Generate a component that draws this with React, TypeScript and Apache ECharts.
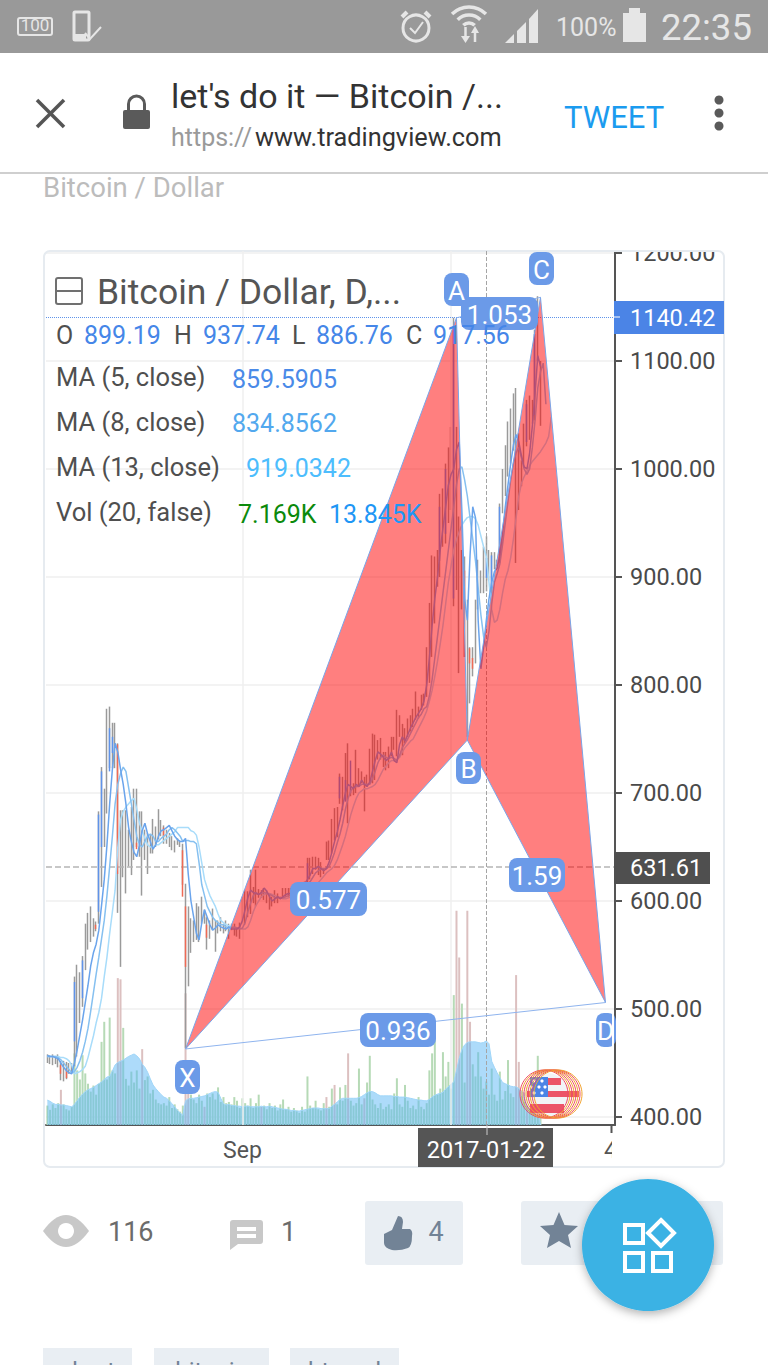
import React, { useEffect, useRef } from "react";
import * as echarts from "echarts";

const slotCount = 210;
const highs = [
  458,457,458,456,458,452,452,451,450,450,
  530,541,534,549,579,589,595,584,581,683,
  724,704,778,780,765,765,746,684,684,684,
  666,687,704,704,683,683,666,663,662,676,
  669,685,675,670,666,663,660,656,658,656,
  653,616,595,584,582,598,595,604,592,585,
  582,593,582,582,585,579,582,579,579,579,
  576,580,604,610,609,629,613,629,611,610,
  612,610,607,604,610,607,604,612,612,612,
  612,610,612,612,614,618,640,640,641,641,
  640,636,630,655,656,676,686,687,718,715,
  737,746,706,709,740,723,720,715,717,741,
  755,754,749,751,738,738,743,752,752,777,
  772,764,760,769,772,778,794,780,791,792,
  835,876,920,919,925,977,982,1005,1020,1039,
  1140,1039,956,925,919,879,835,835,879,916,
  906,928,937.74,925,923,923,916,968,1000,1022,
  1044,1056,1070,1075,1033,1008,1042,1064,1068,1064,
  1129,1160,1100,
];
const lows = [
  450,449,448,449,446,434,433,435,440,441,
  447,456,487,502,536,555,562,567,572,579,
  613,650,681,723,723,723,589,539,622,607,
  632,624,638,650,641,605,638,625,644,644,
  650,657,660,653,653,650,647,645,652,650,
  615,464,521,552,562,564,562,579,579,555,
  565,573,553,570,572,570,572,565,573,568,
  567,565,579,578,585,588,598,595,603,603,
  601,598,592,595,598,598,603,604,604,604,
  604,602,604,604,604,606,612,620,625,629,
  624,622,625,638,638,644,656,659,690,684,
  693,672,697,698,700,706,709,683,706,709,
  709,712,731,731,724,721,723,734,740,734,
  752,735,746,752,757,761,768,769,777,781,
  789,802,826,857,891,900,928,931,950,962,
  873,888,811,870,826,752,783,808,820,870,
  885,885,886.76,897,885,907,910,913,959,975,
  993,1005,1017,913,962,984,1005,1021,1027,1042,
  1045,1100,1040,
];
const bodyIndex = [5,7,10,13,18,19,20,23,24,26,33,43,50,51,59,96,108,110,112,145,147,150,154,156,157,162,164,167,177,180];
const bodyOpen = [448,444,470,510,578,590,650,720,737,745,654,668,647,595,578,620,695,692,700,915,940,880,906,834,825,899.19,890,920,1025,1050];
const bodyClose = [440,436,525,545,574,680,720,760,752,625,648,660,604,539,566,635,715,712,730,965,1000,1130,826,820,815,917.56,920,965,1060,1125];

const ma5 = [
  457,456,456,455,454,450,446,443,441,440,
  450,462,476,490,506,522,540,552,560,573,
  596,620,652,690,722,746,738,722,708,690,
  668,655,645,641,652,665,672,662,655,648,
  652,660,665,666,668,670,665,660,657,655,
  655,658,625,600,585,570,564,580,592,585,
  578,573,575,578,576,575,574,576,574,574,
  574,576,582,592,603,610,608,607,606,608,
  612,609,604,600,602,604,602,604,606,607,
  607,608,609,610,612,616,620,624,630,630,
  632,630,628,630,636,645,655,664,675,688,
  700,708,706,704,708,706,712,708,706,710,
  720,730,738,736,733,730,732,738,730,728,
  745,752,748,754,760,765,770,774,778,785,
  800,825,855,880,900,925,945,965,985,995,
  1000,1018,1025,960,880,860,920,965,955,860,
  815,835,859.59,880,895,905,908,920,940,965,
  985,1005,1022,1032,1025,1012,1002,1000,1015,1040,
  1070,1105,1095,
];
const ma8 = [
  456,456,456,456,455,453,450,447,444,441,
  442,446,452,460,470,482,498,515,532,548,
  565,582,605,632,660,690,708,718,724,720,
  705,690,675,660,652,650,655,660,662,660,
  655,655,658,660,662,666,668,666,663,660,
  655,656,656,655,655,653,635,615,605,595,
  590,585,582,580,578,578,576,575,575,576,
  575,574,575,580,590,598,605,608,606,607,
  608,607,606,605,603,603,603,603,604,605,
  606,607,608,609,610,612,615,618,622,626,
  628,630,630,630,632,638,645,654,662,672,
  685,695,702,705,706,706,708,708,708,708,
  713,720,728,733,735,733,732,733,732,730,
  735,742,746,750,755,760,765,770,773,778,
  780,790,805,825,845,865,885,905,925,945,
  965,985,1000,1002,990,975,955,935,915,890,
  865,845,834.86,850,875,895,903,912,930,950,
  970,990,1005,1015,1020,1010,1000,995,1000,1020,
  1045,1075,1090,1098,1060,
];
const ma13 = [
  456,456,456,456,456,455,455,454,452,448,
  440,441,442,444,447,455,465,475,487,497,
  510,530,548,570,590,610,650,675,683,687,
  690,693,695,685,672,665,658,652,650,650,
  652,652,654,656,658,660,662,664,668,668,
  668,668,668,665,664,661,650,635,620,612,
  605,600,595,588,582,580,578,577,576,575,
  575,575,574,574,576,582,590,596,600,604,
  606,607,607,606,605,604,603,602,602,603,
  604,604,605,606,606,607,608,610,612,614,
  617,620,623,626,628,630,633,638,645,652,
  660,670,680,688,695,700,702,704,704,705,
  706,708,712,717,722,725,728,730,730,731,
  733,738,742,745,748,750,755,760,765,770,
  776,785,795,808,822,838,855,875,895,910,
  925,935,942,948,952,955,956,956,954,948,
  938,928,919.03,895,870,858,860,870,885,898,
  906,918,935,955,975,987,993,998,1003,1007,
  1010,1013,1016,1020,1024,1030,1048,
];
const volumes = [
  3.2,2.5,3.4,2.8,3.6,5.8,3.4,2.6,2.4,3.0,
  11.8,9.0,7.5,11.5,8.5,6.8,5.5,6.5,5.0,6.8,
  13.7,17.0,7.5,17.7,9.0,8.5,24.2,24.0,16.0,7.6,
  6.5,8.8,7.0,9.0,6.0,12.5,7.4,8.0,5.2,5.8,
  4.2,3.6,3.4,3.6,3.2,4.6,2.8,3.4,2.6,2.2,
  3.2,21.7,8.5,5.0,4.2,3.6,5.0,4.0,3.0,5.2,
  4.6,5.2,4.2,6.2,3.8,4.6,3.6,3.8,3.4,4.6,
  4.0,2.8,4.4,3.6,3.2,4.4,2.8,3.6,5.0,3.0,
  3.2,2.6,3.6,2.8,3.2,2.4,3.4,4.2,2.6,3.0,
  2.2,2.8,2.4,2.0,3.0,2.2,8.0,3.2,2.8,4.0,
  2.6,2.4,3.6,4.6,3.0,6.0,6.6,3.4,6.2,4.0,
  6.6,11.8,4.0,3.2,3.6,9.3,3.4,4.4,7.0,11.4,
  4.2,3.4,2.8,3.6,2.6,3.0,3.4,2.6,5.2,7.7,
  3.4,3.0,6.6,4.0,2.8,3.2,2.6,4.6,3.0,2.6,
  3.6,9.0,11.8,16.5,5.0,6.0,12.0,8.0,10.4,6.0,
  21.4,35.3,27.6,20.0,7.0,35.3,17.0,10.0,8.0,12.0,
  8.0,6.0,7.169,5.0,9.3,5.0,4.0,8.8,4.2,5.6,
  10.7,5.2,4.6,24.7,10.4,4.8,3.8,3.2,4.0,2.8,
  3.6,11.4,4.0,
];
const downVolumes = [5,26,27,35,51,52,58,79,103,106,111,117,151,152,155,156,173,174,177];
const volumeAverage = [
  4.1,3.9,3.6,3.4,3.4,3.3,3.3,3.2,3.1,3.0,
  3.4,4.0,4.6,5.1,5.5,5.8,6.0,6.2,6.5,6.8,
  7.1,7.5,7.9,8.0,8.9,9.9,10.3,10.5,10.7,11.0,
  11.3,11.5,11.7,11.4,10.9,10.0,9.5,8.7,7.6,6.6,
  6.0,5.5,5.0,4.6,4.4,4.0,3.5,3.0,2.4,2.0,
  1.6,4.0,4.3,4.4,4.4,4.5,4.6,4.7,4.8,5.0,
  5.2,5.4,5.5,5.4,4.4,3.5,3.3,3.4,3.2,3.2,
  3.1,3.1,3.0,3.1,3.1,3.0,3.0,3.0,3.0,3.1,
  3.0,3.0,3.1,3.0,2.9,2.8,2.7,2.6,2.6,2.5,
  2.4,2.4,2.3,2.3,2.4,2.5,2.6,2.7,2.8,2.8,
  2.8,2.7,2.7,2.7,2.7,3.1,3.4,3.8,4.2,4.4,
  4.4,4.4,4.4,4.4,4.4,4.5,4.7,5.0,5.3,5.5,
  5.5,5.3,5.0,4.8,4.8,4.8,4.8,4.8,4.7,4.7,
  4.6,4.6,4.6,4.5,4.4,4.3,4.2,4.1,4.1,4.0,
  4.0,4.2,4.6,4.9,5.1,5.2,5.4,5.9,6.3,6.7,
  7.1,9.0,11.0,12.4,13.2,13.6,13.7,13.7,13.7,13.6,
  13.5,13.6,13.845,13.4,10.5,9.5,8.6,7.8,7.0,6.8,
  6.6,6.4,6.3,6.3,6.0,5.6,5.2,4.8,4.4,4.0,
  3.6,3.2,0,
];
const patternSlot = [51.4, 150.8, 155.4, 182.1, 206.4];
const patternPrice = [463, 1140, 749, 1159, 506];
const xTickSlots = [72];
const xTickLabels = ["Sep"];
const gridSlot = 149;
const crossSlot = 162;
const crossPrice = 631.61;
const lastPrice = 1140.42;

const FONT = "Roboto";
const LABEL_BLUE = "#6b9ae8";

echarts.graphic.registerShape("eyeIcon", echarts.graphic.extendPath("M43 1231 Q66 1199 89 1231 Q66 1263 43 1231 Z", {}));
echarts.graphic.registerShape("thumbIcon", echarts.graphic.extendPath("M384 1234 L392 1230 L398 1216 Q403 1216 403 1222 L402 1229 L410 1229 Q413 1231 412 1236 Q412 1246 408 1248 Q400 1251 392 1250 Q384 1248 384 1243 Z", {}));
echarts.graphic.registerShape("commentIcon", echarts.graphic.extendPath("M233 1220 L260 1220 Q263 1220 263 1223 L263 1241 Q263 1244 260 1244 L238 1244 L230 1250 L230 1223 Q230 1220 233 1220 Z", {}));

function txt(text: string, x: number, y: number, size: number, fill: string, align = "left", z = 60) {
  return { type: "text", x, y, z, silent: true, style: { text, fill, font: `normal ${size}px ${FONT}`, textAlign: align, textVerticalAlign: "middle" } };
}
function box(x: number, y: number, w: number, h: number, fill: string, z = 40, r: any = 0) {
  return { type: "rect", z, silent: true, shape: { x, y, width: w, height: h, r }, style: { fill } };
}
function seg(x1: number, y1: number, x2: number, y2: number, stroke: string, lineWidth: number, z = 60) {
  return { type: "line", z, silent: true, shape: { x1, y1, x2, y2 }, style: { stroke, lineWidth } };
}
function poly(points: number[][], fill: string, z = 60) {
  return { type: "polygon", z, silent: true, shape: { points }, style: { fill } };
}
function badge(text: string, x: number, y: number, w: number, h: number, size = 26) {
  return [box(x, y, w, h, LABEL_BLUE, 42, 8), txt(text, x + w / 2, y + h / 2 + 1, size, "#ffffff", "center", 43)];
}

function chromeElements() {
  const icon = "#e6e6e6";
  const els: any[] = [];
  // status bar
  els.push(box(0, 0, 768, 53, "#999999", 40));
  els.push({ type: "rect", z: 60, silent: true, shape: { x: 18, y: 18, width: 34, height: 17, r: 2 }, style: { fill: "none", stroke: icon, lineWidth: 2 } });
  els.push(txt("100", 35, 25, 17, icon, "center"));
  els.push({ type: "rect", z: 60, silent: true, shape: { x: 74, y: 12, width: 15, height: 28, r: 1 }, style: { fill: "none", stroke: icon, lineWidth: 3 } });
  els.push(box(74, 34, 12, 6, icon, 60));
  els.push({ type: "polyline", z: 61, silent: true, shape: { points: [[85, 33], [90, 39], [101, 27]] }, style: { fill: "none", stroke: icon, lineWidth: 2 } });
  els.push({ type: "circle", z: 60, silent: true, shape: { cx: 416, cy: 28, r: 13 }, style: { fill: "none", stroke: icon, lineWidth: 3 } });
  els.push({ type: "polyline", z: 60, silent: true, shape: { points: [[410, 28], [415, 33], [423, 22]] }, style: { fill: "none", stroke: icon, lineWidth: 2 } });
  els.push(seg(402, 17, 407, 12, icon, 4), seg(425, 12, 430, 17, icon, 4));
  [8, 16, 24].forEach((r) => {
    els.push({ type: "arc", z: 60, silent: true, shape: { cx: 469, cy: 31, r, startAngle: (-3 * Math.PI) / 4, endAngle: -Math.PI / 4 }, style: { fill: "none", stroke: icon, lineWidth: 3.5 } });
  });
  els.push(poly([[461, 36], [470, 36], [465.5, 43]], icon), poly([[471, 33], [479, 33], [475, 26]], icon));
  els.push(seg(465.5, 27, 465.5, 37, icon, 2.5), seg(475, 32, 475, 42, icon, 2.5));
  els.push(poly([[505, 43], [514, 34], [514, 43]], icon));
  els.push(poly([[517, 43], [517, 31], [526, 22], [526, 43]], icon));
  els.push(poly([[529, 43], [529, 19], [538, 9], [538, 43]], icon));
  els.push(txt("100%", 556, 27, 25, icon));
  els.push(box(623, 13, 23, 29, icon, 60));
  els.push(box(629, 8, 11, 6, icon, 60));
  els.push(txt("22:35", 661, 27, 36.5, icon));
  // toolbar
  els.push(box(0, 53, 768, 119, "#ffffff", 40));
  els.push(box(0, 172, 768, 2, "#cfcfcf", 40));
  els.push(seg(37, 100, 64, 127, "#555555", 3.5), seg(64, 100, 37, 127, "#555555", 3.5));
  els.push(box(123, 110, 27, 19, "#5a5a5a", 60, 2));
  els.push({ type: "arc", z: 60, silent: true, shape: { cx: 136.5, cy: 104, r: 8, startAngle: Math.PI, endAngle: 2 * Math.PI }, style: { fill: "none", stroke: "#5a5a5a", lineWidth: 3 } });
  els.push(seg(128.5, 104, 128.5, 111, "#5a5a5a", 3), seg(144.5, 104, 144.5, 111, "#5a5a5a", 3));
  els.push(txt("let's do it — Bitcoin /...", 171, 96, 34, "#333333"));
  els.push(txt("https://", 171, 137, 25, "#9a9a9a"));
  els.push(txt("www.tradingview.com", 255, 137, 25.3, "#333333"));
  els.push(txt("TWEET", 564, 117, 31, "#1b9bef"));
  [100, 113, 126].forEach((cy) => els.push({ type: "circle", z: 60, silent: true, shape: { cx: 719, cy, r: 4.5 }, style: { fill: "#5a5a5a" } }));
  els.push(txt("Bitcoin / Dollar", 43, 187, 27.5, "#bcbcbc"));
  // bottom actions
  els.push({ type: "eyeIcon", z: 60, silent: true, style: { fill: "#c8c8c8" } });
  els.push({ type: "circle", z: 61, silent: true, shape: { cx: 66, cy: 1231, r: 8 }, style: { fill: "#ffffff" } });
  els.push(txt("116", 108, 1232, 27, "#6b6b6b"));
  els.push({ type: "commentIcon", z: 60, silent: true, style: { fill: "#c8c8c8" } });
  els.push(box(237, 1227, 19, 4, "#ffffff", 61), box(237, 1234, 19, 4, "#ffffff", 61));
  els.push(txt("1", 281, 1232, 27, "#6b6b6b"));
  els.push(box(365, 1201, 98, 64, "#e9eef3", 40, 3));
  els.push({ type: "thumbIcon", z: 60, silent: true, style: { fill: "#728396" } });
  els.push(txt("4", 436, 1232, 27, "#728396", "center"));
  els.push(box(521, 1201, 202, 64, "#e9eef3", 40, 3));
  els.push(poly([[559, 1212], [564.5, 1225], [578, 1226], [568, 1235], [571, 1248], [559, 1241], [547, 1248], [550, 1235], [540, 1226], [553.5, 1225]], "#728396"));
  els.push({ type: "circle", z: 70, silent: true, shape: { cx: 648, cy: 1245, r: 66 }, style: { fill: "#3ab2e4", shadowBlur: 10, shadowColor: "rgba(0,0,0,0.3)", shadowOffsetY: 3 } });
  const white = { fill: "none", stroke: "#ffffff", lineWidth: 4 };
  [[625, 1225], [625, 1253], [653, 1253]].forEach(([x, y]) => els.push({ type: "rect", z: 71, silent: true, shape: { x, y, width: 18, height: 18 }, style: white }));
  els.push({ type: "polygon", z: 71, silent: true, shape: { points: [[661, 1220], [674, 1233], [661, 1246], [648, 1233]] }, style: white });
  [[43, 89, "chart"], [154, 115, "bitcoin"], [290, 109, "btcusd"]].forEach(([x, w, t]: any) => {
    els.push(box(x, 1348, w, 17, "#e9eef3", 40));
    els.push(txt(t, x + w / 2, 1371, 24, "#728396", "center"));
  });
  return els;
}

function chartOverlayElements() {
  const els: any[] = [];
  // card frame and masks that cut the outermost axis labels
  els.push({ type: "rect", z: 1, silent: true, shape: { x: 44, y: 251, width: 680, height: 916, r: 6 }, style: { fill: "none", stroke: "#e6ebf0", lineWidth: 2 } });
  els.push(box(617, 236, 105, 14, "#ffffff", 40));
  els.push(box(617, 1125, 105, 14, "#ffffff", 40));
  // legend
  els.push({ type: "rect", z: 60, silent: true, shape: { x: 56, y: 278, width: 26, height: 26, r: 2 }, style: { fill: "none", stroke: "#707070", lineWidth: 2 } });
  els.push(seg(57, 291, 81, 291, "#707070", 2));
  els.push(txt("Bitcoin / Dollar, D,...", 97, 292, 35.5, "#555555"));
  const grey = "#4f4f4f";
  const blue = "#4586e8";
  els.push(txt("O", 56, 335, 25, grey), txt("899.19", 84, 335, 25, blue));
  els.push(txt("H", 174, 335, 25, grey), txt("937.74", 203, 335, 25, blue));
  els.push(txt("L", 292, 335, 25, grey), txt("886.76", 316, 335, 25, blue));
  els.push(txt("C", 406, 335, 25, grey), txt("917.56", 433, 335, 25, blue));
  els.push(txt("MA (5, close)", 56, 377, 25.5, grey), txt("859.5905", 232, 379, 25, "#4a8ae8"));
  els.push(txt("MA (8, close)", 56, 422, 25.5, grey), txt("834.8562", 232, 423, 25, "#52a8ee"));
  els.push(txt("MA (13, close)", 56, 467, 25.5, grey), txt("919.0342", 246, 468, 25, "#4dbdfd"));
  els.push(txt("Vol (20, false)", 56, 512, 25.5, grey), txt("7.169K", 238, 514, 25, "#0b8a0b"), txt("13.845K", 329, 514, 25, "#1e96f5"));
  // pattern labels
  els.push(...badge("A", 444, 273, 25, 33), ...badge("C", 529, 252, 25, 33), ...badge("1.053", 461, 297, 77, 33));
  els.push(...badge("B", 456, 752, 25, 32), ...badge("0.577", 290, 882, 77, 34), ...badge("1.59", 509, 858, 56, 34));
  els.push(...badge("0.936", 360, 1013, 76, 34), ...badge("X", 175, 1060, 25, 34));
  els.push(box(596, 1013, 20, 34, LABEL_BLUE, 42, 8));
  els.push(txt("D", 597, 1031, 26, "#ffffff", "left", 43));
  els.push(box(612, 1010, 2, 40, "#ffffff", 44));
  // price tags
  els.push(box(614, 301, 110, 33, "#4b84e6", 50));
  els.push(txt("1140.42", 630, 318, 23.5, "#ffffff", "left", 51));
  els.push(seg(614, 317, 620, 317, "#ffffff", 1, 51));
  els.push(box(614, 852, 96, 32, "#4f4f4f", 50));
  els.push(txt("631.61", 630, 868, 23.5, "#ffffff", "left", 51));
  // crosshair date
  els.push(box(418, 1128, 135, 39, "#555555", 50));
  els.push(txt("2017-01-22", 486, 1150, 23.5, "#ffffff", "center", 51));
  els.push(seg(487, 1125, 487, 1135, "#cccccc", 1, 51));
  // right-hand x tick, clipped label
  els.push(seg(611.5, 1125, 611.5, 1133, "#555555", 2, 45));
  els.push(txt("4", 604, 1150, 23.5, "#555555", "left", 44));
  els.push(box(612, 1137, 14, 26, "#ffffff", 45));
  // flag marker
  els.push({ type: "circle", z: 52, silent: true, shape: { cx: 547, cy: 1095, r: 22 }, style: { fill: "#f2f4f7" } });
  els.push(box(547, 1078, 14, 7, "#ec5468", 53));
  els.push(box(527, 1091, 52, 6, "#ec5468", 53));
  els.push(box(530, 1104, 34, 9, "#ec5468", 53));
  els.push(box(530, 1077, 18, 20, "#4b84e6", 54));
  [[534, 1081], [542, 1081], [531, 1087], [539, 1087], [545, 1087], [534, 1093], [542, 1093]].forEach(([cx, cy]) => {
    els.push({ type: "circle", z: 55, silent: true, shape: { cx, cy, r: 1.6 }, style: { fill: "#ffffff" } });
  });
  [544, 546, 548, 550, 552, 554, 556, 558].forEach((cx, i) => {
    els.push({ type: "ellipse", z: 56, silent: true, shape: { cx, cy: 1094, rx: 24, ry: 24 }, style: { fill: "none", stroke: i % 2 ? "#f2a32e" : "#ef4a62", lineWidth: 1 } });
  });
  return els;
}

export default function App() {
  const ref = useRef<HTMLDivElement>(null);
  useEffect(() => {
    const chart = echarts.init(ref.current!, undefined, { renderer: "svg" });
    const slots = Array.from({ length: slotCount }, (_, i) => String(i));
    const isTick = (i: number) => xTickSlots.includes(i);
    const bodyData = highs.map((_, i) => {
      const k = bodyIndex.indexOf(i);
      if (k < 0) return "-";
      const o = bodyOpen[k];
      const c = bodyClose[k];
      return [o, c, Math.min(o, c), Math.max(o, c)];
    });
    const point = (api: any, i: number) => api.coord([patternSlot[i], patternPrice[i]]);
    chart.setOption({
      animation: false,
      backgroundColor: "#ffffff",
      textStyle: { fontFamily: FONT },
      grid: [
        { left: 46, top: 253, width: 569, height: 864 },
        { left: 46, top: 251, width: 569, height: 874 },
      ],
      xAxis: [
        { type: "category", gridIndex: 0, data: slots, show: false },
        {
          type: "category",
          gridIndex: 1,
          data: slots,
          axisLine: { lineStyle: { color: "#555555", width: 2 } },
          axisTick: { alignWithLabel: true, length: 8, interval: (i: number) => isTick(i), lineStyle: { color: "#555555", width: 2 } },
          axisLabel: {
            interval: (i: number) => isTick(i),
            formatter: (_: string, i: number) => xTickLabels[xTickSlots.indexOf(i)] ?? "",
            color: "#555555",
            fontSize: 23,
            margin: 14,
            fontFamily: FONT,
          },
          splitLine: { show: false },
        },
      ],
      yAxis: [
        {
          type: "value",
          gridIndex: 0,
          position: "right",
          min: 400,
          max: 1200,
          interval: 100,
          axisLine: { show: true, lineStyle: { color: "#555555", width: 2 } },
          axisTick: { show: true, length: 7, lineStyle: { color: "#555555", width: 2 } },
          axisLabel: { color: "#4a4a4a", fontSize: 23.5, margin: 15, fontFamily: FONT, formatter: (v: number) => v.toFixed(2) },
          splitLine: { lineStyle: { color: "#efefef", width: 1.5 } },
        },
        {
          type: "value",
          gridIndex: 1,
          position: "right",
          min: 0,
          max: 144,
          axisLine: { show: true, lineStyle: { color: "#555555", width: 2 } },
          axisTick: { show: false },
          axisLabel: { show: false },
          splitLine: { show: false },
        },
      ],
      series: [
        {
          name: "Vol",
          type: "bar",
          xAxisIndex: 1,
          yAxisIndex: 1,
          barWidth: 2,
          z: 1,
          data: volumes.map((v, i) => ({ value: v, itemStyle: { color: downVolumes.includes(i) ? "#dcc0c0" : "#b6dab6" } })),
          markLine: {
            silent: true,
            symbol: "none",
            label: { show: false },
            lineStyle: { color: "#efefef", width: 1.5, type: "solid" },
            data: [{ xAxis: xTickSlots[0] }, { xAxis: gridSlot }],
          },
        },
        {
          name: "Vol MA",
          type: "line",
          xAxisIndex: 1,
          yAxisIndex: 1,
          data: volumeAverage,
          showSymbol: false,
          z: 3,
          lineStyle: { width: 1, color: "#a0d6f8" },
          areaStyle: { color: "rgba(92,184,245,0.5)", opacity: 1 },
          markLine: {
            silent: true,
            symbol: "none",
            label: { show: false },
            lineStyle: { color: "#a5a5a5", width: 1, type: "dashed" },
            data: [{ xAxis: crossSlot }],
          },
        },
        {
          name: "Range",
          type: "candlestick",
          xAxisIndex: 0,
          yAxisIndex: 0,
          barWidth: 1,
          z: 4,
          itemStyle: { color: "#9a9a9a", color0: "#9a9a9a", borderColor: "#9a9a9a", borderColor0: "#9a9a9a", borderWidth: 1.5 },
          data: highs.map((h, i) => [lows[i], h, lows[i], h]),
        },
        {
          name: "Body",
          type: "candlestick",
          xAxisIndex: 0,
          yAxisIndex: 0,
          barWidth: 1,
          z: 5,
          itemStyle: { color: "#5f93ea", color0: "#ef6a55", borderColor: "#5f93ea", borderColor0: "#ef6a55", borderWidth: 1.5 },
          data: bodyData,
        },
        {
          name: "MA 13",
          type: "line",
          xAxisIndex: 0,
          yAxisIndex: 0,
          data: ma13,
          showSymbol: false,
          z: 6,
          lineStyle: { width: 1.5, color: "#a8dcfa" },
          markLine: {
            silent: true,
            symbol: "none",
            label: { show: false },
            data: [
              { yAxis: crossPrice, lineStyle: { color: "#b5b5b5", width: 1.5, type: "dashed" } },
              { yAxis: lastPrice, lineStyle: { color: "#5f93ea", width: 1, type: "dotted" } },
            ],
          },
        },
        { name: "MA 8", type: "line", xAxisIndex: 0, yAxisIndex: 0, data: ma8, showSymbol: false, z: 6, lineStyle: { width: 1.5, color: "#86c0f0" } },
        { name: "MA 5", type: "line", xAxisIndex: 0, yAxisIndex: 0, data: ma5, showSymbol: false, z: 6, lineStyle: { width: 1.5, color: "#6aa4ec" } },
        {
          name: "Pattern",
          type: "custom",
          xAxisIndex: 0,
          yAxisIndex: 0,
          z: 7,
          clip: false,
          silent: true,
          data: [[0, 500]],
          renderItem: (_: any, api: any) => {
            const [X, A, B, C, D] = [0, 1, 2, 3, 4].map((i) => point(api, i));
            const style = { fill: "rgba(255,0,0,0.5)", stroke: "#7aa5e8", lineWidth: 1 };
            const line = { fill: "none", stroke: "#8fb4ee", lineWidth: 1 };
            return {
              type: "group",
              children: [
                { type: "polygon", shape: { points: [X, A, B] }, style },
                { type: "polygon", shape: { points: [B, C, D] }, style },
                { type: "line", shape: { x1: X[0], y1: X[1], x2: D[0], y2: D[1] }, style: line },
                { type: "line", shape: { x1: A[0], y1: A[1], x2: C[0], y2: C[1] }, style: line },
              ],
            };
          },
        },
      ],
      graphic: { elements: [...chartOverlayElements(), ...chromeElements()] },
    });
    return () => chart.dispose();
  }, []);
  return <div ref={ref} style={{ position: "absolute", left: 0, top: 0, width: 768, height: 1365 }} />;
}
